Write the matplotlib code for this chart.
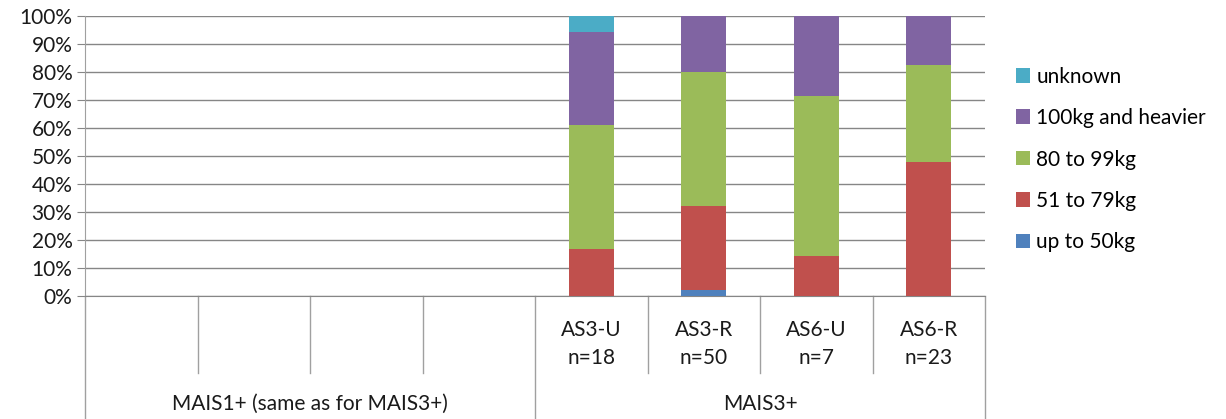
import matplotlib
matplotlib.use("Agg")
import matplotlib.pyplot as plt
import matplotlib.transforms as mtransforms
from matplotlib.patches import Patch
import numpy as np

plt.rcParams['font.family'] = ['Lato', 'DejaVu Sans']

# Categories (first four belong to MAIS1+, which has no bars shown)
categories = ["", "", "", "", "AS3-U\nn=18", "AS3-R\nn=50", "AS6-U\nn=7", "AS6-R\nn=23"]
groups = ["MAIS1+ (same as for MAIS3+)", "MAIS3+"]
group_sizes = [4, 4]

series = ["up to 50kg", "51 to 79kg", "80 to 99kg", "100kg and heavier", "unknown"]
colors = ["#4F81BD", "#C0504D", "#9BBB59", "#8064A2", "#4BACC6"]

# Shares per category (fractions), one list per series
up_to_50 = [0, 0, 0, 0, 0.0, 0.02, 0.0, 0.0]
kg_51_79 = [0, 0, 0, 0, 0.1667, 0.30, 0.1429, 0.4783]
kg_80_99 = [0, 0, 0, 0, 0.4444, 0.48, 0.5714, 0.3478]
kg_100_up = [0, 0, 0, 0, 0.3333, 0.20, 0.2857, 0.1739]
unknown = [0, 0, 0, 0, 0.0556, 0.0, 0.0, 0.0]
values = [up_to_50, kg_51_79, kg_80_99, kg_100_up, unknown]

FS = 15
TXT = "#1a1a1a"
W, H = 1226, 419
fig = plt.figure(figsize=(W / 100, H / 100), dpi=100)
ax = fig.add_axes([85 / W, (H - 296) / H, 900 / W, 280 / H])

x = np.arange(len(categories))
bottom = np.zeros(len(categories))
for name, vals, c in zip(series, values, colors):
    v = np.array(vals)
    ax.bar(x, v, 0.4, bottom=bottom, color=c, label=name, zorder=3)
    bottom += v

grid_c = "#868686"
ax.set_xlim(-0.5, len(categories) - 0.5)
ax.set_ylim(0, 1)
ax.set_yticks(np.arange(0, 1.01, 0.1))
ax.set_yticklabels([f"{int(round(t * 100))}%" for t in np.arange(0, 1.01, 0.1)],
                   fontsize=FS, color=TXT)
ax.tick_params(axis='y', length=6, color=grid_c, pad=3)
ax.set_xticks([])
ax.yaxis.grid(True, color=grid_c, linewidth=1, zorder=0)
for s in ["top", "right"]:
    ax.spines[s].set_visible(False)
ax.spines["left"].set_color("#A0A0A0")
ax.spines["bottom"].set_color(grid_c)

# Multi-level category axis drawn below the plot
trans = mtransforms.blended_transform_factory(ax.transData, ax.transAxes)
inner_bottom = -(373 - 296) / 280
outer_bottom = -(419 - 296) / 280 - 0.01
boundaries = np.arange(len(categories) + 1) - 0.5
group_edges = np.concatenate([[0], np.cumsum(group_sizes)]) - 0.5
for b in boundaries:
    is_group = np.any(np.isclose(group_edges, b))
    y1 = outer_bottom if is_group else inner_bottom
    ax.plot([b, b], [0, y1], transform=trans, color="#A0A0A0", lw=1, clip_on=False)

for xi, lab in zip(x, categories):
    if lab:
        ax.text(xi, -(344 - 296) / 280, lab, transform=trans, ha="center", va="center",
                fontsize=FS, color=TXT, linespacing=1.45)

for g, (a, b) in zip(groups, zip(group_edges[:-1], group_edges[1:])):
    ax.text((a + b) / 2, -(404 - 296) / 280, g, transform=trans, ha="center", va="center",
            fontsize=FS, color=TXT)

handles = [Patch(facecolor=c, label=n) for n, c in zip(series, colors)][::-1]
fig.legend(handles=handles, loc="upper left", bbox_to_anchor=(1001 / W, 1 - 52 / H),
           frameon=False, fontsize=FS, handlelength=0.7, handleheight=0.7,
           handletextpad=0.3, labelspacing=1.03, borderpad=0.2)

fig.savefig("out.png", dpi=100)
